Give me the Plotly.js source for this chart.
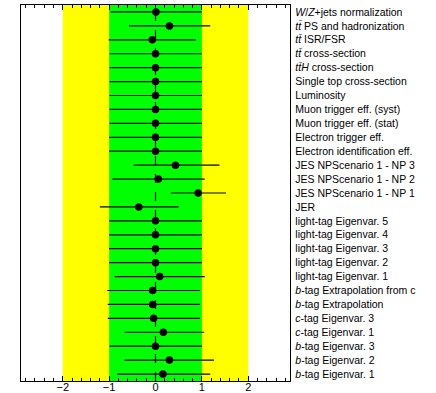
<!DOCTYPE html>
<html>
<head>
<meta charset="utf-8">
<script src="https://cdn.plot.ly/plotly-3.0.1.min.js"></script>
<style>html,body{margin:0;padding:0;background:#fff;}#chart{width:436px;height:393px;}</style>
</head>
<body>
<div id="chart"></div>
<script>
var labels = [
  "<i>W</i>/<i>Z</i>+jets normalization",
  "<i>tt\u0304</i> PS and hadronization",
  "<i>tt\u0304</i> ISR/FSR",
  "<i>tt\u0304</i> cross-section",
  "<i>tt\u0304H</i> cross-section",
  "Single top cross-section",
  "Luminosity",
  "Muon trigger eff. (syst)",
  "Muon trigger eff. (stat)",
  "Electron trigger eff.",
  "Electron identification eff.",
  "JES NPScenario 1 - NP 3",
  "JES NPScenario 1 - NP 2",
  "JES NPScenario 1 - NP 1",
  "JER",
  "light-tag Eigenvar. 5",
  "light-tag Eigenvar. 4",
  "light-tag Eigenvar. 3",
  "light-tag Eigenvar. 2",
  "light-tag Eigenvar. 1",
  "<i>b</i>-tag Extrapolation from c",
  "<i>b</i>-tag Extrapolation",
  "<i>c</i>-tag Eigenvar. 3",
  "<i>c</i>-tag Eigenvar. 1",
  "<i>b</i>-tag Eigenvar. 3",
  "<i>b</i>-tag Eigenvar. 2",
  "<i>b</i>-tag Eigenvar. 1"
];
var pulls     = [0.01, 0.30, -0.07, 0.00, 0.00, 0.00, 0.00, 0.00, 0.00, 0.00, 0.00, 0.43, 0.06, 0.92, -0.36, 0.00, 0.00, 0.00, 0.00, 0.09, -0.06, -0.06, -0.04, 0.17, 0.00, 0.30, 0.16];
var errMinus  = [0.98, 0.87, 0.94, 0.99, 0.99, 0.99, 0.99, 0.99, 0.99, 1.00, 1.00, 0.90, 0.99, 0.59, 0.84, 1.00, 1.00, 1.00, 1.00, 0.97, 0.98, 0.97, 0.99, 0.84, 0.99, 0.97, 0.99];
var errPlus   = [0.99, 0.88, 0.94, 1.00, 1.00, 1.00, 1.00, 1.00, 1.00, 1.00, 1.00, 0.95, 1.00, 0.60, 0.86, 1.00, 1.00, 1.00, 1.00, 0.97, 1.02, 1.02, 1.00, 0.88, 1.00, 0.96, 1.02];
var xTicks = [-2, -1, 0, 1, 2];
var xTickText = ["\u22122", "\u22121", "0", "1", "2"];

var font = "Liberation Sans, Arial, Helvetica, sans-serif";

var trace = {
  type: "scatter",
  mode: "markers",
  x: pulls,
  y: labels,
  marker: {color: "black", size: 7.5},
  error_x: {type: "data", symmetric: false, array: errPlus, arrayminus: errMinus, color: "black", thickness: 1.2, width: 0},
  showlegend: false,
  hoverinfo: "x+y"
};

var layout = {
  width: 436, height: 393,
  margin: {l: 21, r: 146, t: 5, b: 12},
  paper_bgcolor: "white", plot_bgcolor: "white",
  font: {family: font, color: "black"},
  xaxis: {
    range: [-2.9, 2.9],
    tickvals: xTicks, ticktext: xTickText,
    ticks: "inside", ticklen: 5, tickcolor: "black", tickwidth: 1,
    minor: {dtick: 0.2, ticks: "inside", ticklen: 3, tickcolor: "black", tickwidth: 1, showgrid: false},
    showline: true, linecolor: "black", linewidth: 1.2, mirror: "allticks",
    showgrid: false, zeroline: false,
    tickfont: {size: 11, family: font},
    ticklabelstandoff: -4
  },
  yaxis: {
    type: "category",
    range: [26.5, -0.5],
    side: "right",
    ticks: "", showgrid: false, zeroline: false,
    showline: true, linecolor: "black", linewidth: 1.2, mirror: true,
    tickfont: {size: 10.5, family: font},
    ticklabelstandoff: 2
  },
  shapes: [
    {type: "rect", xref: "x", yref: "paper", x0: -2, x1: 2, y0: 0, y1: 1, fillcolor: "#ffff00", line: {width: 0}, layer: "below"},
    {type: "rect", xref: "x", yref: "paper", x0: -1, x1: 1, y0: 0, y1: 1, fillcolor: "#00ff00", line: {width: 0}, layer: "below"},
    {type: "line", xref: "x", yref: "paper", x0: 0, x1: 0, y0: 0, y1: 1, line: {color: "black", width: 1.2, dash: "dash"}, layer: "below"}
  ]
};

Plotly.newPlot("chart", [trace], layout, {displayModeBar: false, staticPlot: true});
</script>
</body>
</html>
